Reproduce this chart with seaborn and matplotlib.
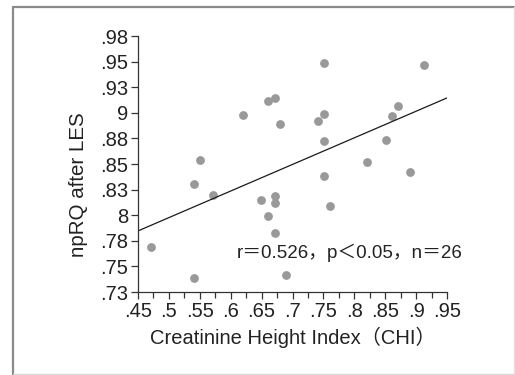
#!/usr/bin/env python3
"""Scatter of CHI vs npRQ after LES with a least-squares line."""

import matplotlib

matplotlib.use("Agg")
import matplotlib.pyplot as plt
import pandas as pd
import seaborn as sns
from matplotlib.lines import Line2D
from matplotlib.ticker import FixedLocator, MultipleLocator

# values
chi = [0.661, 0.671, 0.620, 0.680, 0.551, 0.751, 0.912, 0.870, 0.861, 0.751,
       0.741, 0.751, 0.851, 0.820, 0.541, 0.571, 0.649, 0.671, 0.671, 0.660,
       0.671, 0.471, 0.541, 0.689, 0.751, 0.890, 0.761]
nprq = [0.912, 0.914, 0.898, 0.889, 0.854, 0.949, 0.947, 0.907, 0.897, 0.899,
        0.892, 0.872, 0.873, 0.852, 0.830, 0.820, 0.815, 0.819, 0.812, 0.799,
        0.783, 0.769, 0.739, 0.742, 0.838, 0.842, 0.809]

x_ticks = [0.45, 0.50, 0.55, 0.60, 0.65, 0.70, 0.75, 0.80, 0.85, 0.90, 0.95]
x_tick_labels = [".45", ".5", ".55", ".6", ".65", ".7", ".75", ".8", ".85", ".9", ".95"]
y_ticks = [0.725, 0.75, 0.775, 0.80, 0.825, 0.85, 0.875, 0.90, 0.925, 0.95, 0.975]
y_tick_labels = [".73", ".75", ".78", "8", ".83", ".85", ".88", "9", ".93", ".95", ".98"]

STATS_TEXT = "r＝0.526，p＜0.05，n＝26"
FONTS = ["Liberation Sans", "Noto Sans CJK JP", "DejaVu Sans"]
INK = "#222222"


def draw_frame(fig: plt.Figure) -> None:
    # scanned page border: dark left/top edge, faint right edge
    W, H = 515, 375
    left, top, right = 13 / W, 1 - 7 / H, 514 / W
    fig.add_artist(Line2D([left, left], [0, top], transform=fig.transFigure, color="#8a8a8a", linewidth=1.6))
    fig.add_artist(Line2D([left, right], [top, top], transform=fig.transFigure, color="#8a8a8a", linewidth=1.6))
    fig.add_artist(Line2D([right, right], [0, top], transform=fig.transFigure, color="#e2e2e2", linewidth=1.0))
    fig.add_artist(Line2D([left, right], [1 / H, 1 / H], transform=fig.transFigure, color="#d8d8d8", linewidth=1.0))


def main() -> None:
    sns.set_theme(style="ticks")
    plt.rcParams["font.family"] = FONTS
    plt.rcParams["axes.unicode_minus"] = False

    df = pd.DataFrame({"CHI": chi, "npRQ": nprq})

    fig = plt.figure(figsize=(5.15, 3.75), dpi=100)
    fig.patch.set_facecolor("white")
    draw_frame(fig)

    ax = fig.add_axes([138 / 515, 1 - 292 / 375, 309 / 515, 256 / 375])
    ax.set_xlim(0.45, 0.95)
    ax.set_ylim(0.725, 0.975)
    sns.regplot(
        data=df, x="CHI", y="npRQ", ci=None, truncate=False, ax=ax,
        scatter_kws={"s": 40, "color": "#999999", "linewidths": 0, "alpha": 1},
        line_kws={"color": "#1a1a1a", "linewidth": 0.9},
    )
    ax.set_xlim(0.45, 0.95)
    ax.set_ylim(0.725, 0.975)

    ax.xaxis.set_major_locator(FixedLocator(x_ticks))
    ax.set_xticklabels(x_tick_labels)
    ax.xaxis.set_minor_locator(MultipleLocator(0.025))
    ax.yaxis.set_major_locator(FixedLocator(y_ticks))
    ax.set_yticklabels(y_tick_labels)
    ax.tick_params(axis="both", which="major", length=5, width=0.9,
                   color="#333333", labelsize=14.5, labelcolor=INK, pad=2)
    ax.tick_params(axis="x", which="minor", length=4, width=0.9, color="#333333")

    ax.set_xlabel("Creatinine Height Index（CHI）", fontsize=14.5, color=INK, labelpad=4)
    ax.set_ylabel("npRQ after LES", fontsize=14.8, color=INK)
    # the label sits a little below the axis centre in the original
    ax.yaxis.set_label_coords(-0.162, 0.42)
    ax.text(0.609, 0.763, STATS_TEXT, fontsize=13.5, color=INK, va="center", ha="left")

    sns.despine(ax=ax)
    for side in ("left", "bottom"):
        ax.spines[side].set_color("#333333")
        ax.spines[side].set_linewidth(0.9)

    fig.savefig("out.png", dpi=100, facecolor="white")
    plt.close(fig)


if __name__ == "__main__":
    main()
